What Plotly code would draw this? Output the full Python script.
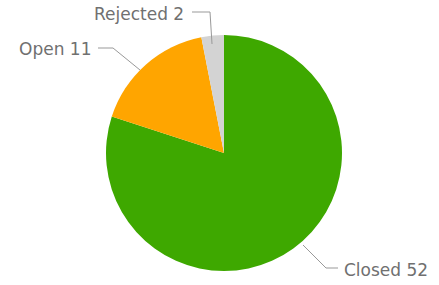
import plotly.graph_objects as go

labels = ["Closed", "Open", "Rejected"]
values = [52, 11, 2]
colors = ["#3ea800", "#ffa500", "#d3d3d3"]

W, H = 439, 285

def px(x, y):
    return x / W, 1 - y / H

cx, cy, r = 224, 153, 118
x0, _ = px(cx - r, 0)
x1, _ = px(cx + r, 0)
_, y1 = px(0, cy - r)
_, y0 = px(0, cy + r)

fig = go.Figure(go.Pie(
    labels=labels, values=values,
    marker=dict(colors=colors, line=dict(width=0)),
    sort=False, direction="clockwise", rotation=0,
    textinfo="none", hoverinfo="label+value",
    domain=dict(x=[x0, x1], y=[y0, y1]),
    showlegend=False,
))

font = dict(family="DejaVu Sans, sans-serif", size=17, color="#707070")
ann = [
    (f"{labels[2]} {values[2]}", 186, 14, "right"),
    (f"{labels[1]} {values[1]}", 93, 49, "right"),
    (f"{labels[0]} {values[0]}", 342, 270, "left"),
]
annotations = []
for t, x, y, anc in ann:
    ax, ay = px(x, y)
    annotations.append(dict(text=t, x=ax, y=ay, xref="paper", yref="paper",
                            xanchor=anc, yanchor="middle", showarrow=False, font=font))

lines = [
    [(192, 12), (210, 12), (212, 44)],
    [(98, 48), (113, 48), (140, 70)],
    [(303, 245), (326, 268), (338, 268)],
]
shapes = []
for pts in lines:
    path = ""
    for i, (x, y) in enumerate(pts):
        X, Y = px(x, y)
        path += ("M" if i == 0 else "L") + f"{X},{Y} "
    shapes.append(dict(type="path", path=path, xref="paper", yref="paper",
                       line=dict(color="#999999", width=1)))

fig.update_layout(width=W, height=H, margin=dict(l=0, r=0, t=0, b=0),
                  paper_bgcolor="white", plot_bgcolor="white",
                  annotations=annotations, shapes=shapes)
fig.write_html("out.html", post_script="document.body.style.margin='0';",
               config={"displayModeBar": False})
